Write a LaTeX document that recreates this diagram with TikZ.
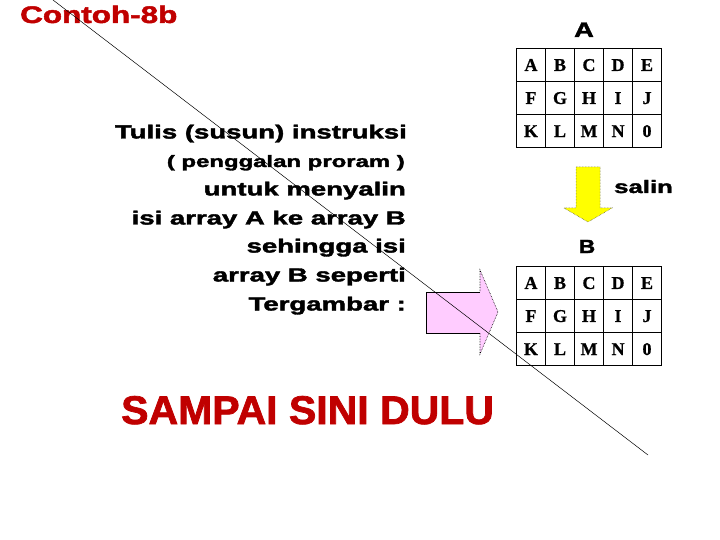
\documentclass[tikz,border=0pt]{standalone}
\usepackage{graphicx}
\usepackage{fontspec}
\setmainfont{Liberation Sans}
\newfontfamily\heavy{Liberation Sans}[BoldFeatures={FakeBold=1.8}]
\newfontfamily\tabfont{Liberation Serif}[BoldFeatures={FakeBold=0.8}]
\usetikzlibrary{matrix}
\definecolor{titlered}{RGB}{192,0,0}
\definecolor{pinkfill}{RGB}{255,204,255}
\definecolor{yellowfill}{RGB}{255,255,0}
\newcommand{\hs}[2]{\scalebox{#1}[1]{#2}}
\newcommand{\fs}[1]{\fontsize{#1}{#1}\selectfont}
\tikzset{
  txt/.style={inner sep=0pt, font=\heavy\bfseries\fs{19}, text=black},
  redtxt/.style={inner sep=0pt, text=titlered},
  cell/.style={draw, line width=0.6pt, minimum width=29pt, minimum height=33pt, inner sep=0pt, font=\tabfont\bfseries\fs{18}},
  tbl/.style={matrix of nodes, nodes={cell}, column sep=-0.6pt, row sep=-0.6pt, inner sep=0pt, anchor=north west},
}
\begin{document}
\begin{tikzpicture}[x=1pt,y=-1pt]
\useasboundingbox (0,0) rectangle (720,540);
% titles
\node[redtxt, font=\heavy\bfseries\fs{24}, anchor=base west] (title) at (20,23) {\hs{1.31}{Contoh-8b}};
\node[redtxt, font=\heavy\bfseries\fs{40}, anchor=base west] (sampai) at (121,424) {\hs{1.025}{SAMPAI SINI DULU}};
% instruction text
\node[txt, anchor=base east] (l1) at (407,138.5) {\hs{1.45}{Tulis (susun) instruksi}};
\node[txt, font=\heavy\bfseries\fs{16.5}, anchor=base east] (l2) at (405,167) {\hs{1.45}{( penggalan proram )}};
\node[txt, anchor=base east] (l3) at (406,195.5) {\hs{1.45}{untuk menyalin}};
\node[txt, anchor=base east] (l4) at (406,224.5) {\hs{1.45}{isi array A ke array B}};
\node[txt, anchor=base east] (l5) at (406,252.5) {\hs{1.45}{sehingga isi}};
\node[txt, anchor=base east] (l6) at (406,281.5) {\hs{1.45}{array B seperti}};
\node[txt, anchor=base east] (l7) at (406,310.5) {\hs{1.45}{Tergambar :}};
% labels
\node[txt, font=\heavy\bfseries\fs{21}, anchor=base] (labA) at (584,37) {\hs{1.3}{A}};
\node[txt, font=\heavy\bfseries\fs{19}, anchor=base] (labB) at (587,253) {\hs{1.2}{B}};
\node[txt, font=\heavy\bfseries\fs{18}, anchor=base west] (salin) at (614,193) {\hs{1.43}{salin}};
% tables
\matrix (ta) [tbl] at (516,48) {
A & B & C & D & E\\
F & G & H & I & J\\
K & L & M & N & 0\\
};
\matrix (tb) [tbl] at (516,266) {
A & B & C & D & E\\
F & G & H & I & J\\
K & L & M & N & 0\\
};
% yellow arrow
\filldraw[fill=yellowfill, draw=black!70, densely dotted, line width=0.5pt]
  (576,167) -- (600,167) -- (600,208) -- (612,208) -- (588,222) -- (564,208) -- (576,208) -- cycle;
% pink arrow
\fill[pinkfill] (426,292) -- (480,292) -- (480,270) -- (498,312) -- (480,354) -- (480,333) -- (426,333) -- cycle;
\draw[line width=0.7pt] (480,292) -- (426,292) -- (426,333) -- (480,333);
\draw[densely dotted, line width=0.6pt] (480,333) -- (480,354) -- (498,312) -- (480,270) -- (480,292);
% diagonal line
\coordinate (d1) at (53,0);
\coordinate (d2) at (648,455);
\draw[line width=0.5pt] (d1) -- (d2);
\end{tikzpicture}
\end{document}
